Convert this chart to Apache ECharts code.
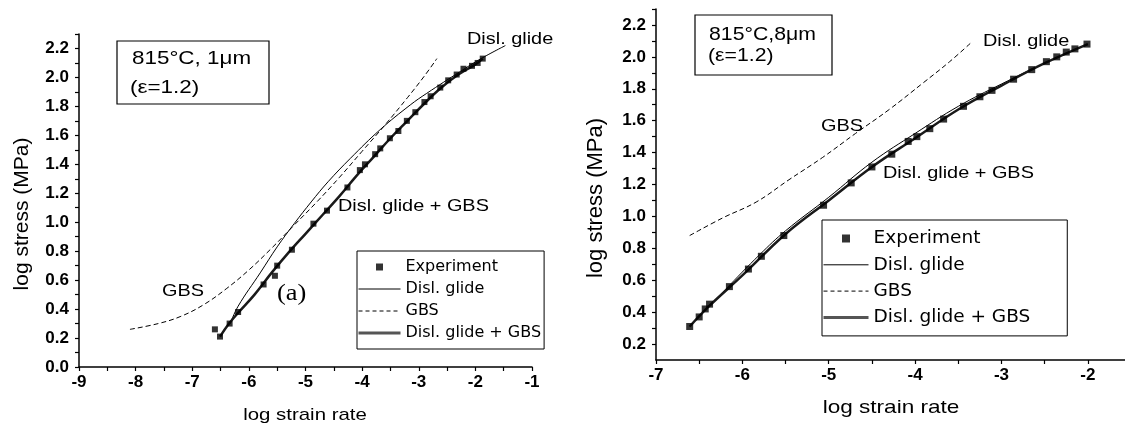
<!DOCTYPE html>
<html>
<head>
<meta charset="utf-8">
<script src="https://cdn.jsdelivr.net/npm/echarts@6/dist/echarts.min.js"></script>
<style>
  html, body { margin: 0; padding: 0; background: #fff; }
  #chart { width: 1125px; height: 426px; }
</style>
</head>
<body>
<div id="chart"></div>
<script>
// ---- Panel (a): 815 °C, 1 µm ----
const aExpX  = [-6.60, -6.51, -6.34, -6.19, -5.74, -5.54, -5.50, -5.24, -4.86, -4.62, -4.26, -4.04, -3.95, -3.77,
                -3.68, -3.51, -3.36, -3.21, -3.06, -2.90, -2.79, -2.62, -2.48, -2.33, -2.21, -2.06, -1.96, -1.87];
const aExpY  = [0.26, 0.21, 0.30, 0.38, 0.57, 0.63, 0.70, 0.81, 0.99, 1.08, 1.24, 1.36, 1.40, 1.47,
                1.51, 1.58, 1.63, 1.70, 1.76, 1.83, 1.87, 1.93, 1.98, 2.02, 2.06, 2.08, 2.10, 2.13];
const aGlideX = [-6.33, -6.19, -5.80, -5.50, -5.20, -4.90, -4.60, -4.21, -3.68, -3.15, -2.86, -2.27, -1.90, -1.47];
const aGlideY = [0.30, 0.42, 0.65, 0.83, 0.99, 1.14, 1.28, 1.44, 1.64, 1.81, 1.89, 2.04, 2.13, 2.22];
const aGbsX  = [-8.10, -7.60, -7.20, -6.80, -6.40, -6.00, -5.60, -5.20, -4.80, -4.40, -4.00, -3.60, -3.20, -2.90, -2.68];
const aGbsY  = [0.26, 0.30, 0.35, 0.43, 0.54, 0.67, 0.82, 0.98, 1.14, 1.31, 1.49, 1.67, 1.86, 2.01, 2.13];
const aBothX = [-6.51, -6.35, -6.20, -5.90, -5.60, -5.30, -5.00, -4.70, -4.40, -4.10, -3.80, -3.50, -3.20,
                -2.90, -2.60, -2.30, -2.00, -1.87];
const aBothY = [0.21, 0.30, 0.37, 0.50, 0.65, 0.79, 0.92, 1.05, 1.18, 1.32, 1.45, 1.58, 1.70,
                1.82, 1.93, 2.02, 2.09, 2.13];

// ---- Panel (b): 815 °C, 8 µm ----
const bExpX  = [-6.61, -6.50, -6.43, -6.38, -6.15, -5.93, -5.78, -5.52, -5.06, -4.74, -4.50, -4.27, -4.08,
                -3.98, -3.83, -3.67, -3.44, -3.25, -3.11, -2.86, -2.65, -2.48, -2.36, -2.25, -2.15, -2.01];
const bExpY  = [0.31, 0.37, 0.42, 0.45, 0.56, 0.67, 0.75, 0.88, 1.07, 1.21, 1.31, 1.39, 1.47,
                1.50, 1.55, 1.61, 1.69, 1.75, 1.79, 1.86, 1.92, 1.97, 2.00, 2.03, 2.05, 2.08];
const bGlideX = [-6.61, -6.20, -5.80, -5.50, -5.00, -4.50, -4.00, -3.50, -3.00, -2.50, -2.00];
const bGlideY = [0.31, 0.54, 0.76, 0.91, 1.12, 1.34, 1.52, 1.69, 1.83, 1.96, 2.08];
const bGbsX  = [-6.61, -6.23, -5.84, -5.46, -5.07, -4.69, -4.30, -3.90, -3.60, -3.35];
const bGbsY  = [0.88, 0.99, 1.09, 1.23, 1.37, 1.52, 1.67, 1.84, 1.97, 2.09];
const bBothX = [-6.61, -6.40, -6.00, -5.50, -5.00, -4.50, -4.00, -3.50, -3.00, -2.50, -2.00];
const bBothY = [0.31, 0.43, 0.63, 0.89, 1.10, 1.31, 1.49, 1.67, 1.82, 1.96, 2.08];

// ---- Tick values: labelled ticks and the unlabelled ones between them ----
const aXTicks  = [-9, -8, -7, -6, -5, -4, -3, -2, -1];
const aXMinor  = [-8.5, -7.5, -6.5, -5.5, -4.5, -3.5, -2.5, -1.5];
const aYTicks  = [0.0, 0.2, 0.4, 0.6, 0.8, 1.0, 1.2, 1.4, 1.6, 1.8, 2.0, 2.2];
const aYMinor  = [0.1, 0.3, 0.5, 0.7, 0.9, 1.1, 1.3, 1.5, 1.7, 1.9, 2.1, 2.3];
const bXTicks  = [-7, -6, -5, -4, -3, -2];
const bXMinor  = [-6.5, -5.5, -4.5, -3.5, -2.5];
const bYTicks  = [0.2, 0.4, 0.6, 0.8, 1.0, 1.2, 1.4, 1.6, 1.8, 2.0, 2.2];
const bYMinor  = [0.3, 0.5, 0.7, 0.9, 1.1, 1.3, 1.5, 1.7, 1.9, 2.1, 2.3];

const legendNames = ['Experiment', 'Disl. glide', 'GBS', 'Disl. glide + GBS'];

const zip = (xs, ys) => xs.map((x, i) => [x, ys[i]]);
// tick marks drawn at every labelled and unlabelled position, in ascending order
const allTicks = (major, minor) => major.concat(minor).sort((p, q) => p - q);

const SANS = '"Liberation Sans", Arial, Helvetica, sans-serif';
const SERIF = '"Liberation Serif", "Times New Roman", serif';
const BLACK = '#000';

function axis(opts) {
  return Object.assign({
    type: 'value',
    axisLine: { show: true, onZero: false, lineStyle: { color: BLACK, width: 1.5 } },
    splitLine: { show: false },
    axisTick: {
      show: true, length: 4, customValues: allTicks(opts.ticks, opts.minor),
      lineStyle: { color: BLACK, width: 1.2 }
    },
    axisLabel: {
      customValues: opts.ticks, color: BLACK, fontFamily: SANS, fontSize: 17, fontWeight: 'bold',
      margin: opts.margin, formatter: opts.fmt
    }
  }, opts.base);
}

const fmtX = v => String(v);
const fmtY = v => v.toFixed(1);

const xAxis = [
  axis({ base: { gridIndex: 0, min: -9, max: -1 }, ticks: aXTicks, minor: aXMinor, margin: 7, fmt: fmtX }),
  axis({ base: { gridIndex: 1, min: -7, max: -1.57 }, ticks: bXTicks, minor: bXMinor, margin: 7, fmt: fmtX })
];
const yAxis = [
  axis({ base: { gridIndex: 0, min: 0, max: 2.3 }, ticks: aYTicks, minor: aYMinor, margin: 10, fmt: fmtY }),
  axis({ base: { gridIndex: 1, min: 0.1, max: 2.3 }, ticks: bYTicks, minor: bYMinor, margin: 10, fmt: fmtY })
];

function panelSeries(axisIdx, exp, glide, gbs, both, markSize) {
  const common = { xAxisIndex: axisIdx, yAxisIndex: axisIdx, silent: true };
  return [
    Object.assign({
      name: 'Disl. glide', type: 'line', data: glide, symbol: 'none', smooth: 0.4,
      lineStyle: { color: BLACK, width: 1 }, z: 3
    }, common),
    Object.assign({
      name: 'GBS', type: 'line', data: gbs, symbol: 'none', smooth: 0.4,
      lineStyle: { color: BLACK, width: 1, type: [5, 3] }, z: 3
    }, common),
    Object.assign({
      name: 'Disl. glide + GBS', type: 'line', data: both, symbol: 'none', smooth: 0.4,
      lineStyle: { color: '#1a1a1a', width: 2.5 }, z: 4
    }, common),
    Object.assign({
      name: 'Experiment', type: 'scatter', data: exp, symbol: 'rect', symbolSize: markSize,
      itemStyle: { color: BLACK }, z: 5
    }, common)
  ];
}

// small filled square centred in a square box, used as the legend mark
const squareIcon = 'path://M0,0L0,0.01M14,14L14,14.01M3.5,3.5h7v7h-7z';

function legendData() {
  return [
    { name: legendNames[0], icon: squareIcon, itemStyle: { borderWidth: 0 } },
    { name: legendNames[1], itemStyle: { opacity: 0 }, lineStyle: { width: 1, color: BLACK, type: 'solid' } },
    { name: legendNames[2], itemStyle: { opacity: 0 }, lineStyle: { width: 1, color: BLACK, type: [4, 3] } },
    { name: legendNames[3], itemStyle: { opacity: 0 }, lineStyle: { width: 3, color: '#555', type: 'solid' } }
  ];
}

function label(text, x, y, size, extra) {
  return Object.assign({
    type: 'text', x: x, y: y, scaleX: 1.17, silent: true,
    style: { text: text, fill: BLACK, fontFamily: SANS, fontSize: size, align: 'left', verticalAlign: 'middle' }
  }, extra || {});
}
function box(x, y, w, h) {
  return {
    type: 'rect', silent: true, shape: { x: x, y: y, width: w, height: h },
    style: { fill: '#fff', stroke: BLACK, lineWidth: 1.2 }
  };
}

const graphics = [
  // panel (a)
  box(117, 41, 152, 63),
  label('815°C, 1μm', 132, 59, 19, { scaleX: 1.18 }),
  label('(ε=1.2)', 130, 88, 19, { scaleX: 1.18 }),
  label('Disl. glide', 467, 39, 17),
  label('Disl. glide + GBS', 338, 206, 17),
  label('GBS', 162, 291, 17),
  { type: 'text', x: 277, y: 294, scaleX: 1.15, silent: true,
    style: { text: '(a)', fill: BLACK, fontFamily: SERIF, fontSize: 23, align: 'left', verticalAlign: 'middle' } },
  { type: 'text', x: 305, y: 415, scaleX: 1.2, silent: true,
    style: { text: 'log strain rate', fill: BLACK, fontFamily: SANS, fontSize: 17, align: 'center', verticalAlign: 'middle' } },
  { type: 'text', x: 22, y: 214, rotation: Math.PI / 2, silent: true,
    style: { text: 'log stress (MPa)', fill: BLACK, fontFamily: SANS, fontSize: 21, align: 'center', verticalAlign: 'middle' } },
  // panel (b)
  box(695, 15, 137, 60),
  label('815°C,8μm', 709, 35, 18, { scaleX: 1.18 }),
  label('(ε=1.2)', 708, 56, 18, { scaleX: 1.18 }),
  label('Disl. glide', 983, 41, 17),
  label('GBS', 821, 126, 17),
  label('Disl. glide + GBS', 883, 173, 17),
  { type: 'text', x: 875, y: 322, scaleX: 1.15, silent: true,
    style: { text: '(b)', fill: BLACK, fontFamily: SERIF, fontSize: 23, align: 'left', verticalAlign: 'middle' } },
  { type: 'text', x: 891, y: 408, scaleX: 1.22, silent: true,
    style: { text: 'log strain rate', fill: BLACK, fontFamily: SANS, fontSize: 18.5, align: 'center', verticalAlign: 'middle' } },
  { type: 'text', x: 596, y: 198, rotation: Math.PI / 2, silent: true,
    style: { text: 'log stress (MPa)', fill: BLACK, fontFamily: SANS, fontSize: 22, align: 'center', verticalAlign: 'middle' } }
];

const chart = echarts.init(document.getElementById('chart'), null, { renderer: 'canvas' });
chart.setOption({
  backgroundColor: '#fff',
  animation: false,
  grid: [
    { left: 79, top: 34, width: 453, height: 333 },
    { left: 656, top: 9, width: 469, height: 351 }
  ],
  xAxis: xAxis,
  yAxis: yAxis,
  legend: [
    {
      left: 357, top: 251, orient: 'vertical', selectedMode: false,
      itemWidth: 42, itemHeight: 14, itemGap: 6, padding: [8, 3, 8, 0],
      borderColor: BLACK, borderWidth: 1, backgroundColor: '#fff', borderRadius: 0,
      textStyle: { fontFamily: '"DejaVu Sans", sans-serif', fontSize: 16, color: BLACK, lineHeight: 14 },
      data: legendData()
    },
    {
      left: 822, top: 220, orient: 'vertical', selectedMode: false,
      itemWidth: 45, itemHeight: 16, itemGap: 7.3, padding: [9, 37, 9, 0],
      borderColor: BLACK, borderWidth: 1, backgroundColor: '#fff', borderRadius: 0,
      textStyle: { fontFamily: '"DejaVu Sans", sans-serif', fontSize: 18.5, color: BLACK, lineHeight: 16 },
      data: legendData()
    }
  ],
  graphic: graphics,
  series: [].concat(
    panelSeries(0, zip(aExpX, aExpY), zip(aGlideX, aGlideY), zip(aGbsX, aGbsY), zip(aBothX, aBothY), 6),
    panelSeries(1, zip(bExpX, bExpY), zip(bGlideX, bGlideY), zip(bGbsX, bGbsY), zip(bBothX, bBothY), 7)
  )
});
</script>
</body>
</html>
